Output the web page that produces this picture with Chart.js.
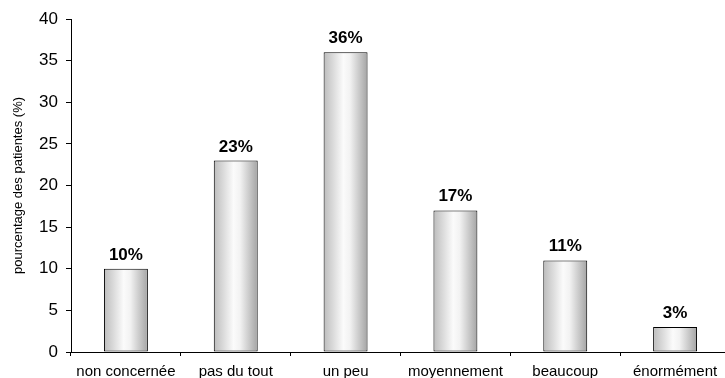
<!DOCTYPE html>
<html>
<head>
<meta charset="utf-8">
<script src="https://cdn.jsdelivr.net/npm/chart.js@4/dist/chart.umd.min.js"></script>
<style>
	html, body { margin: 0; padding: 0; background: #fff; overflow: hidden; }
	#wrap { position: relative; width: 730px; height: 378px; }
</style>
</head>
<body>
<div id="wrap"><canvas id="chart"></canvas></div>
<script>
// Répartition des patientes par niveau de gêne ressentie
const categories = ['non concernée', 'pas du tout', 'un peu', 'moyennement', 'beaucoup', 'énormément'];
const percentages = [10, 23, 36, 17, 11, 3];
const yTicks = [0, 5, 10, 15, 20, 25, 30, 35, 40];

const FONT = 'Arial, "Liberation Sans", sans-serif';

// cylinder-like shading across each bar
function barShade(ctx) {
	const chart = ctx.chart,
		xs = chart.scales.x;
	if (!chart.chartArea || !xs) return '#d8d8d8';
	const cx = xs.getPixelForValue(ctx.dataIndex),
		w = xs.width / categories.length * 0.4,
		g = chart.ctx.createLinearGradient(cx - w / 2, 0, cx + w / 2, 0);
	g.addColorStop(0, '#bcbcbc');
	g.addColorStop(0.45, '#fbfbfb');
	g.addColorStop(0.6, '#f2f2f2');
	g.addColorStop(1, '#a4a4a4');
	return g;
}

// bold "xx%" above each bar
const valueLabels = {
	id: 'valueLabels',
	afterDatasetsDraw(chart) {
		const c = chart.ctx,
			meta = chart.getDatasetMeta(0);
		c.save();
		c.font = 'bold 17px ' + FONT;
		c.fillStyle = '#000';
		c.textAlign = 'center';
		c.textBaseline = 'alphabetic';
		meta.data.forEach((bar, i) => {
			c.fillText(percentages[i] + '%', bar.x, bar.y - 9);
		});
		c.restore();
	}
};

new Chart(
	document.getElementById('chart'),
	{
		type: 'bar',
		data: {
			labels: categories,
			datasets: [{
				data: percentages,
				backgroundColor: barShade,
				borderColor: '#000',
				borderWidth: 1,
				borderSkipped: false,
				barPercentage: 0.4,
				categoryPercentage: 1
			}]
		},
		options: {
			responsive: true,
			maintainAspectRatio: false,
			animation: false,
			layout: {padding: {top: 19, right: 0, bottom: 0, left: 0}},
			plugins: {
				legend: {display: false},
				tooltip: {enabled: false}
			},
			scales: {
				x: {
					offset: true,
					afterFit: (s) => { s.height = 26; },
					border: {color: '#000', width: 1},
					grid: {
						offset: true,
						drawOnChartArea: false,
						drawTicks: true,
						tickLength: 4,
						color: '#000'
					},
					ticks: {
						color: '#000',
						padding: 7,
						maxRotation: 0,
						font: {family: FONT, size: 15}
					}
				},
				y: {
					min: 0,
					max: 40,
					afterFit: (s) => { s.width = 71; },
					afterBuildTicks: (s) => { s.ticks = yTicks.map((v) => ({value: v})); },
					border: {color: '#000', width: 1},
					grid: {
						drawOnChartArea: false,
						drawTicks: true,
						tickLength: 5,
						color: '#000'
					},
					ticks: {
						color: '#000',
						padding: 8,
						font: {family: FONT, size: 17}
					},
					title: {
						display: true,
						text: 'pourcentage des patientes (%)',
						color: '#000',
						padding: {top: 11, bottom: 0},
						font: {family: FONT, size: 13}
					}
				}
			}
		},
		plugins: [valueLabels]
	}
);
</script>
</body>
</html>
